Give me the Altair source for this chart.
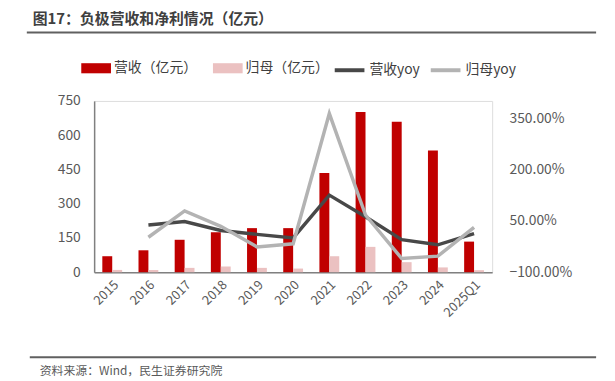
import altair as alt
import pandas as pd

years = ["2015", "2016", "2017", "2018", "2019", "2020", "2021", "2022", "2023", "2024", "2025Q1"]
revenue = [70, 96, 142, 175, 193, 193, 434, 702, 659, 533, 134]
net_profit = [10, 10, 19, 25, 19, 16, 70, 111, 44, 21, 9]
rev_yoy = [None, 38, 48, 22, 10.5, 0, 125, 62, -5, -20, 12.5]
np_yoy = [None, 2, 79, 34, -26, -17, 363, 67, -60, -53, 31]

bar_names = ["营收（亿元）", "归母（亿元）"]
line_names = ["营收yoy", "归母yoy"]
bar_colors = ["#C00000", "#EBC1C1"]
line_colors = ["#484848", "#B3B3B3"]

FONT = "Noto Sans CJK SC"

bars_df = pd.DataFrame(
    [{"year": y, "bar_series": bar_names[0], "value": v} for y, v in zip(years, revenue)]
    + [{"year": y, "bar_series": bar_names[1], "value": v} for y, v in zip(years, net_profit)]
)
lines_df = pd.DataFrame(
    [{"year": y, "line_series": line_names[0], "pct": v} for y, v in zip(years, rev_yoy) if v is not None]
    + [{"year": y, "line_series": line_names[1], "pct": v} for y, v in zip(years, np_yoy) if v is not None]
)

x_enc = alt.X(
    "year:N",
    sort=years,
    scale=alt.Scale(paddingInner=0, paddingOuter=0),
    axis=alt.Axis(
        title=None, labelAngle=-45, labelFontSize=13, labelColor="#595959", labelFont=FONT,
        ticks=False, domainColor="#808080", domainWidth=1.5, labelPadding=6,
    ),
)

bars = alt.Chart(bars_df).mark_bar().encode(
    x=x_enc,
    xOffset=alt.XOffset("bar_series:N", sort=bar_names, scale=alt.Scale(paddingInner=0, paddingOuter=0.825)),
    y=alt.Y(
        "value:Q",
        scale=alt.Scale(domain=[0, 750], nice=False),
        axis=alt.Axis(
            title=None, values=[0, 150, 300, 450, 600, 750], grid=False, ticks=False,
            labelFontSize=14, labelColor="#595959", labelFont=FONT, labelPadding=14,
            domainColor="#808080", domainWidth=1.5,
        ),
    ),
    fill=alt.Fill(
        "bar_series:N",
        sort=bar_names,
        scale=alt.Scale(domain=bar_names, range=bar_colors),
        legend=alt.Legend(
            title=None, orient="none", legendX=-13, legendY=-48, direction="horizontal",
            symbolType="M-1,-0.34H1V0.34H-1Z", symbolSize=900, symbolStrokeWidth=0,
            labelFontSize=14, labelColor="#404040", labelFont=FONT, labelOffset=3,
            columnPadding=16, gridAlign="each",
        ),
    ),
)

lines = alt.Chart(lines_df).mark_line(strokeWidth=3.5).encode(
    x=alt.X("year:N", sort=years),
    y=alt.Y(
        "pct:Q",
        scale=alt.Scale(domain=[-100, 400], nice=False),
        axis=alt.Axis(
            title=None, orient="right", values=[-100, 50, 200, 350], grid=False, ticks=False, domain=False,
            labelExpr="format(datum.value, '.2f') + '%'",
            labelFontSize=14, labelColor="#595959", labelFont=FONT, labelPadding=17,
        ),
    ),
    stroke=alt.Stroke(
        "line_series:N",
        sort=line_names,
        scale=alt.Scale(domain=line_names, range=line_colors),
        legend=alt.Legend(
            title=None, orient="none", legendX=241, legendY=-48, direction="horizontal",
            symbolType="stroke", symbolSize=900, symbolStrokeWidth=4,
            labelFontSize=14, labelColor="#404040", labelFont=FONT, labelOffset=3,
            columnPadding=3, gridAlign="each",
        ),
    ),
    detail="line_series:N",
)

one = alt.Data(values=[{"t": 1}])

title_text = alt.Chart(one).mark_text(
    text="图17：负极营收和净利情况（亿元）", font=FONT, fontSize=15, fontWeight="bold",
    color="#404040", align="left", baseline="middle",
).encode(x=alt.value(-62), y=alt.value(-83))

top_rule = alt.Chart(one).mark_rule(color="#606060", strokeWidth=2).encode(
    x=alt.value(-68), x2=alt.value(507), y=alt.value(-69)
)
bottom_rule = alt.Chart(one).mark_rule(color="#606060", strokeWidth=2).encode(
    x=alt.value(-65), x2=alt.value(507), y=alt.value(259)
)
source_text = alt.Chart(one).mark_text(
    text="资料来源：Wind，民生证券研究院", font=FONT, fontSize=12,
    color="#595959", align="left", baseline="middle",
).encode(x=alt.value(-55), y=alt.value(273))

chart = (
    alt.layer(bars, lines, title_text, top_rule, bottom_rule, source_text)
    .resolve_scale(y="independent", fill="independent", stroke="independent")
    .properties(
        width=402, height=173,
        autosize=alt.AutoSizeParams(type="none"),
        padding={"left": 87, "top": 92, "right": 116, "bottom": 106},
    )
    .configure_view(stroke=None)
    .configure(background="white")
)

chart.save("out.html", embed_options={"renderer": "svg", "actions": False})
